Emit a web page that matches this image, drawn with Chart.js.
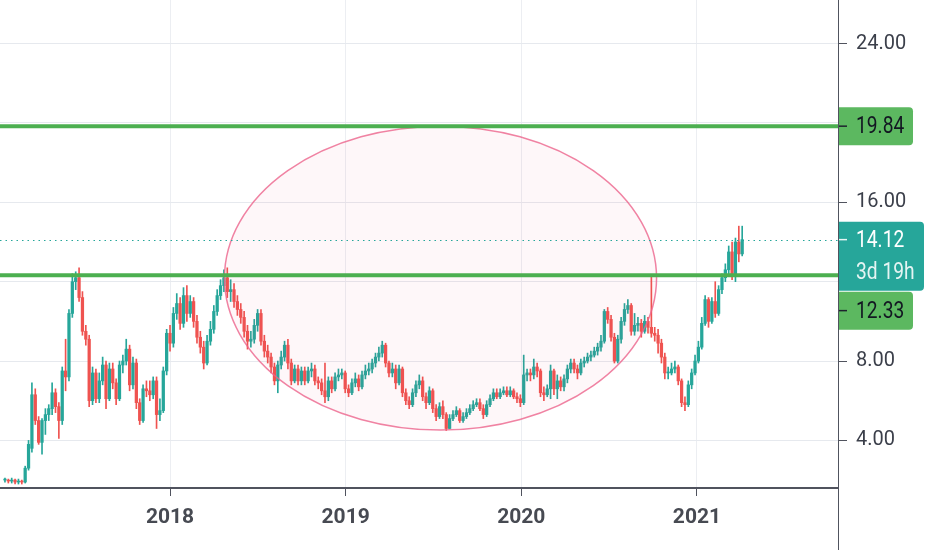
<!DOCTYPE html>
<html>
<head>
<meta charset="utf-8">
<script src="https://cdn.jsdelivr.net/npm/chart.js@4.4.1/dist/chart.umd.min.js"></script>
<style>
  html, body { margin: 0; padding: 0; background: #fff; }
  #wrap { width: 932px; height: 550px; }
</style>
</head>
<body>
<div id="wrap"><canvas id="chart" width="932" height="550"></canvas></div>
<script>
// Weekly candles, first week starting 2017-01-23
const firstWeek = "2017-01-23";

const opens = [
  2.0, 2.0, 1.95, 2.0, 1.9, 1.95, 1.9, 2.6, 3.6, 6.3,
  5.0, 3.9, 5.0, 5.3, 5.6, 6.4, 5.7, 5.0, 7.5, 7.2,
  10.4, 12.0, 12.2, 11.2, 9.5, 9.1, 6.0, 7.4, 6.1, 7.0,
  7.8, 6.1, 7.6, 6.9, 6.1, 7.8, 8.0,
  8.6, 6.8, 7.9, 5.9, 5.0, 6.6, 6.5, 6.3, 7.0, 5.3,
  5.5, 7.5, 9.4, 8.9, 10.4, 10.9, 9.9, 11.3, 10.4, 11.0,
  10.0, 9.2, 8.7, 7.9, 9.0, 9.6, 10.5, 11.3, 11.8, 12.2,
  11.5, 11.6, 11.0, 10.6, 10.2, 9.5,
  9.0, 9.1, 9.8, 10.4, 9.0, 8.5, 8.2, 7.7, 7.0, 7.8,
  8.2, 8.8, 7.9, 7.0, 7.6, 7.0, 7.5, 7.0, 7.5, 7.6,
  7.0, 6.9, 6.5, 6.2, 7.0, 6.6, 7.2, 7.3, 7.4, 6.6,
  6.4, 6.9, 7.1, 6.7, 7.3, 7.5, 7.6, 7.9, 8.2, 8.4,
  8.8, 7.9, 7.4, 7.6, 6.9, 7.6, 6.4, 6.0, 5.8, 6.4,
  6.8, 7.0, 6.2, 5.9, 6.5, 5.6, 5.2, 5.7, 5.3, 4.6,
  5.1, 5.3, 5.5, 5.0, 5.2, 5.4, 5.6, 5.8, 5.9, 5.6,
  5.3, 5.8, 6.1, 6.4, 6.2, 6.4, 6.5, 6.3, 6.5, 6.2,
  6.1, 5.9, 7.3, 7.4, 7.3, 7.7, 7.5, 6.4, 6.3, 6.6,
  7.5, 6.6, 7.0, 6.7, 7.1, 7.6, 7.9, 7.6, 7.4, 7.9,
  8.0, 8.2, 8.3, 8.5, 8.7, 9.0, 10.5, 10.1, 9.2, 8.0,
  9.1, 10.0, 10.6, 10.8, 9.5, 9.8, 9.9, 9.5, 10.0,
  9.7, 9.4, 9.3, 8.9, 8.2, 7.4, 7.4, 7.6, 7.7, 7.0,
  5.9, 5.8, 6.8, 7.4, 8.0, 8.7, 9.9, 11.1, 10.0, 11.0,
  10.4, 11.6, 12.2, 12.6, 13.5, 12.3, 14.0, 13.4
];

const highs = [
  2.1, 2.05, 2.1, 2.05, 2.05, 2.0, 2.7, 4.0, 6.9, 6.6,
  5.2, 5.1, 5.6, 5.8, 6.9, 6.6, 5.9, 7.7, 9.1, 10.6,
  12.4, 12.5, 12.7, 11.5, 9.8, 9.3, 7.7, 7.6, 7.4, 8.2,
  8.0, 7.9, 7.9, 7.1, 8.0, 8.3, 9.1,
  8.8, 8.2, 8.1, 6.1, 6.8, 7.0, 7.0, 7.2, 7.2, 6.1,
  7.7, 9.6, 9.8, 10.7, 11.4, 11.2, 11.7, 11.8, 11.3, 11.2,
  10.3, 9.5, 9.0, 9.3, 10.0, 10.8, 11.6, 12.1, 12.6, 12.7,
  12.1, 11.9, 11.3, 10.9, 10.5, 9.8,
  9.5, 10.1, 10.6, 10.6, 9.3, 8.8, 8.4, 7.9, 8.0, 8.5,
  9.0, 9.1, 8.1, 7.8, 7.8, 7.7, 7.7, 7.7, 7.9, 7.8,
  7.2, 7.1, 7.9, 7.2, 7.2, 7.4, 7.6, 7.6, 7.5, 6.8,
  7.1, 7.4, 7.3, 7.5, 7.8, 7.9, 8.1, 8.4, 8.7, 9.0,
  8.9, 8.0, 7.9, 7.8, 7.8, 7.7, 6.6, 6.2, 6.6, 7.0,
  7.3, 7.2, 6.4, 6.7, 6.6, 5.8, 5.9, 6.0, 5.4, 5.3,
  5.5, 5.7, 5.6, 5.4, 5.6, 5.8, 6.0, 6.1, 6.1, 5.8,
  6.0, 6.3, 6.6, 6.6, 6.6, 6.7, 6.7, 6.7, 6.6, 6.4,
  6.3, 8.3, 7.6, 7.6, 8.1, 7.9, 7.6, 6.7, 6.8, 7.8,
  7.6, 7.3, 7.2, 7.3, 7.8, 8.1, 8.1, 7.8, 8.1, 8.2,
  8.4, 8.5, 8.7, 8.9, 9.3, 10.6, 10.7, 10.3, 9.4, 9.3,
  10.2, 10.9, 11.1, 10.9, 10.4, 10.2, 10.1, 10.3, 10.2,
  12.3, 9.7, 9.6, 9.1, 8.4, 7.7, 7.9, 8.0, 7.8, 7.1,
  6.2, 7.0, 7.6, 8.3, 9.0, 10.2, 11.3, 11.2, 11.2, 12.0,
  11.8, 12.4, 12.9, 13.8, 14.0, 14.2, 14.8, 14.8
];

const lows = [
  1.9, 1.85, 1.85, 1.8, 1.8, 1.8, 1.85, 2.5, 3.4, 4.8,
  3.8, 3.3, 4.3, 5.0, 5.3, 5.4, 4.1, 4.8, 6.5, 7.0,
  10.2, 11.6, 11.0, 9.3, 8.8, 5.7, 5.8, 5.9, 5.9, 6.8,
  5.6, 6.0, 6.6, 5.8, 6.0, 7.4, 7.8,
  6.5, 6.6, 5.6, 4.8, 4.9, 6.2, 6.0, 6.1, 4.6, 5.0,
  5.4, 7.3, 8.5, 8.7, 10.1, 9.6, 9.7, 10.0, 10.2, 9.7,
  8.9, 8.4, 7.6, 7.8, 8.8, 9.4, 10.3, 11.1, 11.5, 11.2,
  11.0, 10.7, 10.3, 9.9, 9.2, 8.6,
  8.7, 8.9, 9.5, 8.8, 8.2, 7.9, 7.4, 6.8, 6.4, 7.6,
  8.0, 7.6, 6.8, 6.9, 6.8, 6.8, 6.8, 6.9, 7.2, 6.8,
  6.6, 6.3, 5.9, 6.0, 6.4, 6.5, 7.0, 7.1, 6.4, 6.2,
  6.3, 6.7, 6.5, 6.6, 7.1, 7.3, 7.4, 7.7, 8.0, 8.2,
  7.7, 7.2, 7.2, 6.6, 6.8, 6.2, 5.8, 5.6, 5.7, 6.2,
  6.6, 6.0, 5.6, 5.8, 5.4, 5.0, 5.1, 5.1, 4.5, 4.6,
  5.0, 5.2, 4.9, 4.9, 5.1, 5.3, 5.5, 5.7, 5.5, 5.1,
  5.2, 5.7, 6.0, 6.1, 6.1, 6.3, 6.2, 6.2, 6.1, 5.9,
  5.7, 5.8, 7.0, 7.0, 7.1, 7.2, 6.2, 6.0, 6.2, 6.1,
  6.3, 6.1, 6.5, 6.5, 6.9, 7.4, 7.4, 7.1, 7.3, 7.7,
  7.9, 8.0, 8.2, 8.3, 8.5, 8.9, 9.9, 9.0, 7.9, 7.9,
  8.9, 9.8, 10.4, 9.3, 9.3, 9.5, 9.2, 9.4, 9.4,
  9.2, 9.0, 8.4, 7.9, 7.1, 7.1, 7.3, 7.4, 6.8, 5.7,
  5.5, 5.7, 6.6, 7.3, 7.9, 8.6, 9.8, 9.7, 9.9, 10.2,
  10.3, 11.4, 12.0, 12.4, 12.1, 12.0, 13.0, 13.3
];

const closes = [
  2.0, 1.95, 2.0, 1.9, 1.95, 1.9, 2.6, 3.8, 6.3, 5.0,
  3.9, 5.0, 5.3, 5.6, 6.4, 5.7, 5.0, 7.5, 7.2, 10.4,
  12.0, 12.2, 11.2, 9.5, 9.1, 6.0, 7.4, 6.1, 7.0, 7.8,
  6.1, 7.6, 6.9, 6.1, 7.8, 8.0, 8.6,
  6.8, 7.9, 5.9, 5.0, 6.6, 6.5, 6.3, 7.0, 5.3, 5.5,
  7.5, 9.4, 8.9, 10.4, 10.9, 9.9, 11.3, 10.4, 11.0, 10.0,
  9.2, 8.7, 7.9, 9.0, 9.6, 10.5, 11.3, 11.8, 12.2, 11.5,
  11.6, 11.0, 10.6, 10.2, 9.5, 9.0,
  9.1, 9.8, 10.4, 9.0, 8.5, 8.2, 7.7, 7.0, 7.8, 8.2,
  8.8, 7.9, 7.0, 7.6, 7.0, 7.5, 7.0, 7.5, 7.6, 7.0,
  6.9, 6.5, 6.2, 7.0, 6.6, 7.2, 7.3, 7.4, 6.6, 6.4,
  6.9, 7.1, 6.7, 7.3, 7.5, 7.6, 7.9, 8.2, 8.4, 8.8,
  7.9, 7.4, 7.6, 6.9, 7.6, 6.4, 6.0, 5.8, 6.4, 6.8,
  7.0, 6.2, 5.9, 6.5, 5.6, 5.2, 5.7, 5.3, 4.6, 5.1,
  5.3, 5.5, 5.0, 5.2, 5.4, 5.6, 5.8, 5.9, 5.6, 5.3,
  5.8, 6.1, 6.4, 6.2, 6.4, 6.5, 6.3, 6.5, 6.2, 6.1,
  5.9, 7.3, 7.4, 7.3, 7.7, 7.5, 6.4, 6.3, 6.6, 7.5,
  6.6, 7.0, 6.7, 7.1, 7.6, 7.9, 7.6, 7.4, 7.9, 8.0,
  8.2, 8.3, 8.5, 8.7, 9.0, 10.5, 10.1, 9.2, 8.0, 9.1,
  10.0, 10.6, 10.8, 9.5, 9.8, 9.9, 9.5, 10.0, 9.7,
  9.4, 9.3, 8.9, 8.2, 7.4, 7.4, 7.6, 7.7, 7.0, 5.9,
  5.8, 6.8, 7.4, 8.0, 8.7, 9.9, 11.1, 10.0, 11.0, 10.4,
  11.6, 12.2, 12.6, 13.5, 12.3, 14.0, 13.4, 14.12
];

const yearTicks = [2018, 2019, 2020, 2021];
const priceTicks = [4, 8, 12, 16, 20, 24];
const hiddenPriceTicks = [12, 20];   // covered by the price labels
const resistance = 19.84;
const support = 12.33;
const lastPrice = 14.12;
const countdown = "3d 19h";
// ellipse drawn over 2018-04 .. 2020-10
const ellipseX = [2018.31, 2020.77];
const ellipseY = [4.52, 19.84];

const UP = "#26a69a";
const DOWN = "#ef5350";
const GREEN = "#4caf50";

function yearFraction(d) {
  const y = d.getUTCFullYear();
  const a = Date.UTC(y, 0, 1), b = Date.UTC(y + 1, 0, 1);
  return y + (d.getTime() - a) / (b - a);
}
const start = new Date(firstWeek + "T00:00:00Z");
const weeks = closes.map((_, i) => yearFraction(new Date(start.getTime() + i * 7 * 86400000)));
const colors = closes.map((c, i) => c >= opens[i] ? UP : DOWN);

const overlay = {
  id: "overlay",
  afterDatasetsDraw(chart) {
    const { ctx, chartArea: a, scales: { x, y } } = chart;
    ctx.save();
    ctx.beginPath();
    ctx.rect(a.left, a.top, a.right - a.left, a.bottom - a.top);
    ctx.clip();

    // ellipse
    const x0 = x.getPixelForValue(ellipseX[0]), x1 = x.getPixelForValue(ellipseX[1]);
    const y0 = y.getPixelForValue(ellipseY[1]), y1 = y.getPixelForValue(ellipseY[0]);
    ctx.beginPath();
    ctx.ellipse((x0 + x1) / 2, (y0 + y1) / 2, (x1 - x0) / 2, (y1 - y0) / 2, 0, 0, Math.PI * 2);
    ctx.fillStyle = "rgba(236, 64, 122, 0.045)";
    ctx.fill();
    ctx.strokeStyle = "rgba(236, 100, 140, 0.8)";
    ctx.lineWidth = 1.5;
    ctx.stroke();

    // horizontal levels
    ctx.strokeStyle = GREEN;
    ctx.lineWidth = 4;
    [resistance, support].forEach(v => {
      const py = y.getPixelForValue(v);
      ctx.beginPath();
      ctx.moveTo(a.left, py);
      ctx.lineTo(a.right, py);
      ctx.stroke();
    });

    // last price dotted line
    const pl = Math.round(y.getPixelForValue(lastPrice)) + 0.5;
    ctx.strokeStyle = UP;
    ctx.lineWidth = 1;
    ctx.setLineDash([1.5, 4]);
    ctx.beginPath();
    ctx.moveTo(a.left, pl);
    ctx.lineTo(a.right, pl);
    ctx.stroke();
    ctx.restore();
  },
  afterDraw(chart) {
    const { ctx, chartArea: a, scales: { y } } = chart;
    const left = a.right + 1;
    ctx.save();

    // axis line running down to the bottom
    ctx.strokeStyle = "#50535e";
    ctx.lineWidth = 1;
    ctx.beginPath();
    ctx.moveTo(a.right + 0.5, 0);
    ctx.lineTo(a.right + 0.5, chart.height);
    ctx.stroke();

    function tag(top, w, h, fill) {
      const r = 4;
      ctx.beginPath();
      ctx.moveTo(left, top);
      ctx.lineTo(left + w - r, top);
      ctx.arcTo(left + w, top, left + w, top + r, r);
      ctx.lineTo(left + w, top + h - r);
      ctx.arcTo(left + w, top + h, left + w - r, top + h, r);
      ctx.lineTo(left, top + h);
      ctx.closePath();
      ctx.fillStyle = fill;
      ctx.fill();
    }
    function dash(py, color) {
      ctx.strokeStyle = color;
      ctx.lineWidth = 1.5;
      ctx.beginPath();
      ctx.moveTo(left, py);
      ctx.lineTo(left + 8, py);
      ctx.stroke();
    }
    // narrow text, like the condensed face of the original
    function label(text, py, color) {
      ctx.save();
      ctx.translate(left + 17, py);
      ctx.scale(0.8, 1);
      ctx.font = "24px Roboto";
      ctx.textBaseline = "middle";
      ctx.textAlign = "left";
      ctx.fillStyle = color;
      ctx.fillText(text, 0, 0);
      ctx.restore();
    }

    // resistance tag
    const pr = y.getPixelForValue(resistance);
    tag(pr - 19, 74, 38, "#5cb860");
    dash(pr, "#1e222d");
    label(resistance.toFixed(2), pr + 1, "#131722");

    // last price tag
    const pl = y.getPixelForValue(lastPrice);
    const lastTop = pl - 18;
    tag(lastTop, 85, 69, UP);
    dash(pl, "rgba(255,255,255,0.9)");
    label(lastPrice.toFixed(2), pl + 1, "#ffffff");
    label(countdown, pl + 33, "rgba(255,255,255,0.88)");

    // support tag, pushed below the last price tag
    const sTop = lastTop + 70;
    tag(sTop, 74, 38, "#5cb860");
    dash(sTop + 19, "#1e222d");
    label(support.toFixed(2), sTop + 20, "#131722");
    ctx.restore();
  }
};

new Chart(document.getElementById("chart"), {
  type: "bar",
  data: {
    datasets: [
      {
        label: "wick",
        data: weeks.map((w, i) => ({ x: w, y: [lows[i], highs[i]] })),
        backgroundColor: colors,
        barThickness: 1,
        grouped: false,
        order: 2
      },
      {
        label: "body",
        data: weeks.map((w, i) => ({ x: w, y: [opens[i], closes[i]] })),
        backgroundColor: colors,
        barThickness: 2.6,
        minBarLength: 1,
        grouped: false,
        order: 1
      }
    ]
  },
  options: {
    responsive: false,
    animation: false,
    layout: { padding: 0 },
    plugins: {
      legend: { display: false },
      tooltip: { enabled: false }
    },
    scales: {
      x: {
        type: "linear",
        min: 2017.032,
        max: 2021.803,
        offset: false,
        afterBuildTicks: s => { s.ticks = yearTicks.map(v => ({ value: v })); },
        afterFit: s => { s.height = 62; s.paddingLeft = 0; s.paddingRight = 0; },
        ticks: {
          callback: v => String(v),
          autoSkip: false,
          maxRotation: 0,
          padding: 9,
          color: "#474a52",
          font: { family: "Roboto", size: 21, weight: "bold" }
        },
        grid: { offset: false, color: "#eceef2", tickColor: "#50535e", tickLength: 8 },
        border: { color: "#50535e", width: 2 }
      },
      y: {
        position: "right",
        min: 1.6,
        max: 26.2,
        afterBuildTicks: s => { s.ticks = priceTicks.map(v => ({ value: v })); },
        afterFit: s => { s.width = 94; s.paddingTop = 0; s.paddingBottom = 0; },
        ticks: {
          callback: v => hiddenPriceTicks.includes(v) ? "" : v.toFixed(2),
          padding: 9,
          color: "#3b3f4a",
          font: { family: "Roboto", size: 20 }
        },
        grid: { color: "#e6e9ee", tickColor: "#50535e", tickLength: 9 },
        border: { color: "#50535e", width: 1 }
      }
    }
  },
  plugins: [overlay]
});
</script>
</body>
</html>
